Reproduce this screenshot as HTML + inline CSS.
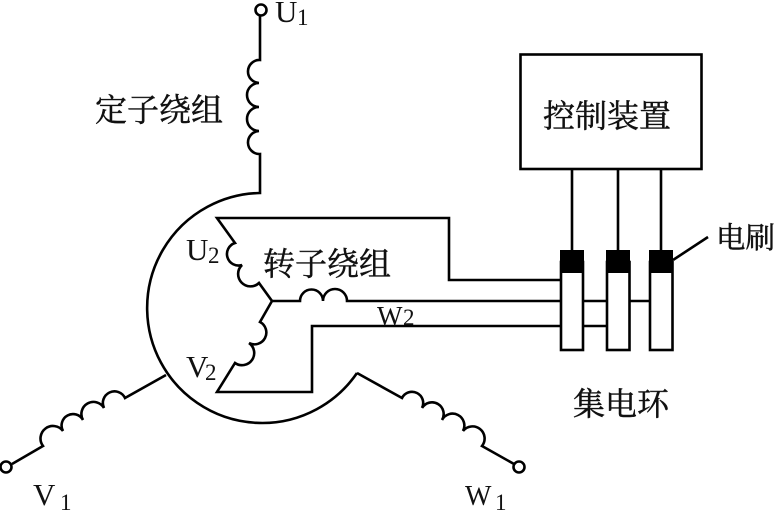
<!DOCTYPE html>
<html>
<head>
<meta charset="utf-8">
<style>
html,body{margin:0;padding:0;background:#fff;width:775px;height:510px;overflow:hidden}
svg{display:block}
text{fill:#111}
.c{font-family:"Liberation Serif","Noto Serif CJK SC",serif;font-size:32px;stroke:#111;stroke-width:.45px}
.l{font-family:"Liberation Serif",serif;font-size:31px}
.s{font-family:"Liberation Serif",serif;font-size:23px}
</style>
</head>
<body>
<svg width="775" height="510" viewBox="0 0 775 510" xmlns="http://www.w3.org/2000/svg">
<g fill="none" stroke="#000" stroke-width="2.6">
  <!-- stator circle -->
  <path d="M260 192 L260 193 A115 115 0 1 0 357 373"/>
  <!-- U winding -->
  <circle cx="261" cy="10" r="5.5"/>
  <path d="M260 16 V60 A1 1 0 0 0 259 83 A1 1 0 0 0 259 107 A1 1 0 0 0 259 131 A1 1 0 0 0 260 154 V192"/>
  <!-- V winding -->
  <path d="M166 375 L125 398 A1 1 0 0 0 104 408 A1 1 0 0 0 83 420 A1 1 0 0 0 63 431 A1 1 0 0 0 43 446 L12 464"/>
  <circle cx="6" cy="467" r="5.5"/>
  <!-- W winding -->
  <path d="M357 373 L402 398 A1 1 0 0 1 422 408 A1 1 0 0 1 442 420 A1 1 0 0 1 463 431 A1 1 0 0 1 482 446 L514 464"/>
  <circle cx="519" cy="467" r="5.5"/>
  <!-- rotor -->
  <path d="M560 280 H449 V218 H217 L235 243 A1 1 0 0 0 242 265 A1 1 0 0 0 259 283 L272 301 L260 322 A1 1 0 0 1 249 343 A1 1 0 0 1 235 363 L217 392 H312 V326 H606"/>
  <path d="M272 301 H300 A1 1 0 0 1 323 301 A1 1 0 0 1 347 301 H650"/>
  <!-- control box -->
  <rect x="520.5" y="54.5" width="181" height="114.5"/>
  <path d="M572 169 V250 M618 169 V250 M661 169 V250"/>
  <!-- slip rings -->
  <rect x="561" y="262" width="22" height="88" fill="#fff"/>
  <rect x="607" y="262" width="22.5" height="88" fill="#fff"/>
  <rect x="650" y="262" width="22.5" height="88" fill="#fff"/>
  <path d="M673 260 L708 237"/>
</g>
<rect x="560" y="250" width="24" height="23" fill="#000"/>
<rect x="606" y="250" width="24" height="23" fill="#000"/>
<rect x="649" y="250" width="24" height="23" fill="#000"/>

<text class="c" x="95" y="121">定子绕组</text>
<text class="c" x="263" y="275">转子绕组</text>
<text class="c" x="543" y="127">控制装置</text>
<text class="c" x="716" y="248" style="font-size:29.5px">电刷</text>
<text class="c" x="573" y="415">集电环</text>

<text class="l" x="275" y="22">U</text>
<text class="s" x="297" y="25">1</text>
<text class="l" x="186" y="260">U</text>
<text class="s" x="208" y="263">2</text>
<text class="l" x="186" y="377">V</text>
<text class="s" x="205" y="380">2</text>
<text class="l" x="377" y="325" style="font-size:27px">W</text>
<text class="s" x="403" y="325">2</text>
<text class="l" x="33" y="505">V</text>
<text class="s" x="60" y="510">1</text>
<text class="l" x="465" y="505" style="font-size:28px">W</text>
<text class="s" x="495" y="510">1</text>
</svg>
</body>
</html>
